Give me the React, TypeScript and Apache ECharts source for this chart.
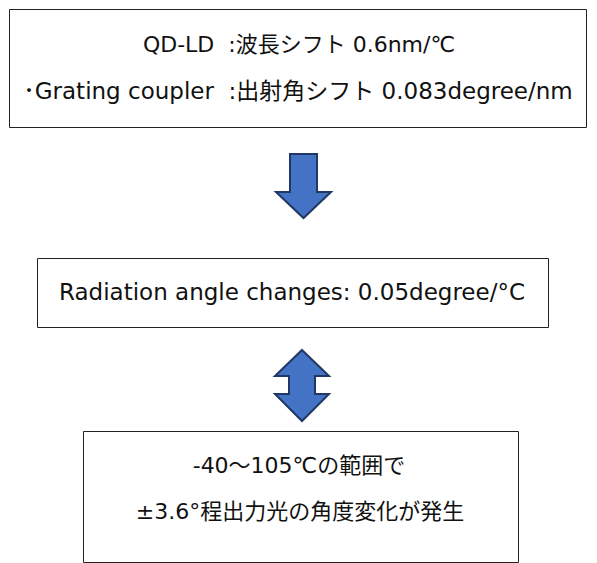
import React, { useEffect, useRef } from "react";
import * as echarts from "echarts";

const boxTopLines = ["QD-LD  :波長シフト 0.6nm/℃", "･Grating coupler  :出射角シフト 0.083degree/nm"];
const boxMiddleLines = ["Radiation angle changes: 0.05degree/°C"];
const boxBottomLines = ["-40～105℃の範囲で", "±3.6°程出力光の角度変化が発生"];

const FONT = '"DejaVu Sans", "Noto Sans CJK JP", sans-serif';
const ARROW_FILL = "#4472C4";
const ARROW_STROKE = "#1F3864";

function textEl(text: string, x: number, y: number, size = 23) {
  return {
    type: "text",
    x,
    y,
    style: {
      text,
      fill: "#111111",
      font: `${size}px ${FONT}`,
      textAlign: "center",
      textVerticalAlign: "middle",
    },
  };
}

function boxEl(x: number, y: number, w: number, h: number) {
  return {
    type: "rect",
    shape: { x: x + 0.5, y: y + 0.5, width: w, height: h },
    style: { fill: "#ffffff", stroke: "#222222", lineWidth: 1 },
  };
}

export default function App() {
  const ref = useRef<HTMLDivElement>(null);
  useEffect(() => {
    if (!ref.current) return;
    const chart = echarts.init(ref.current, undefined, { renderer: "svg" });
    const elements: any[] = [];
    elements.push(boxEl(9, 9, 577, 118));
    elements.push(textEl(boxTopLines[0], 299, 44, 22));
    elements.push(textEl(boxTopLines[1], 298, 91));

    elements.push({
      type: "polygon",
      shape: {
        points: [
          [290, 154], [317, 154], [317, 192], [331, 192], [303.5, 218], [276, 192], [290, 192],
        ],
      },
      style: { fill: ARROW_FILL, stroke: ARROW_STROKE, lineWidth: 2, lineJoin: "miter" },
    });

    elements.push(boxEl(37, 258, 511, 69));
    elements.push(textEl(boxMiddleLines[0], 292, 292));

    elements.push({
      type: "polygon",
      shape: {
        points: [
          [302, 350], [329, 376], [315, 376], [315, 394], [329, 394], [302, 421],
          [275, 394], [289, 394], [289, 376], [275, 376],
        ],
      },
      style: { fill: ARROW_FILL, stroke: ARROW_STROKE, lineWidth: 2, lineJoin: "miter" },
    });

    elements.push(boxEl(83, 431, 435, 131));
    elements.push(textEl(boxBottomLines[0], 299, 465, 22));
    elements.push(textEl(boxBottomLines[1], 300, 511, 22));

    chart.setOption({
      animation: false,
      backgroundColor: "#ffffff",
      graphic: { elements },
    });
    return () => chart.dispose();
  }, []);
  return (
    <div
      ref={ref}
      style={{ position: "absolute", left: 0, top: 0, width: 597, height: 563 }}
    />
  );
}
